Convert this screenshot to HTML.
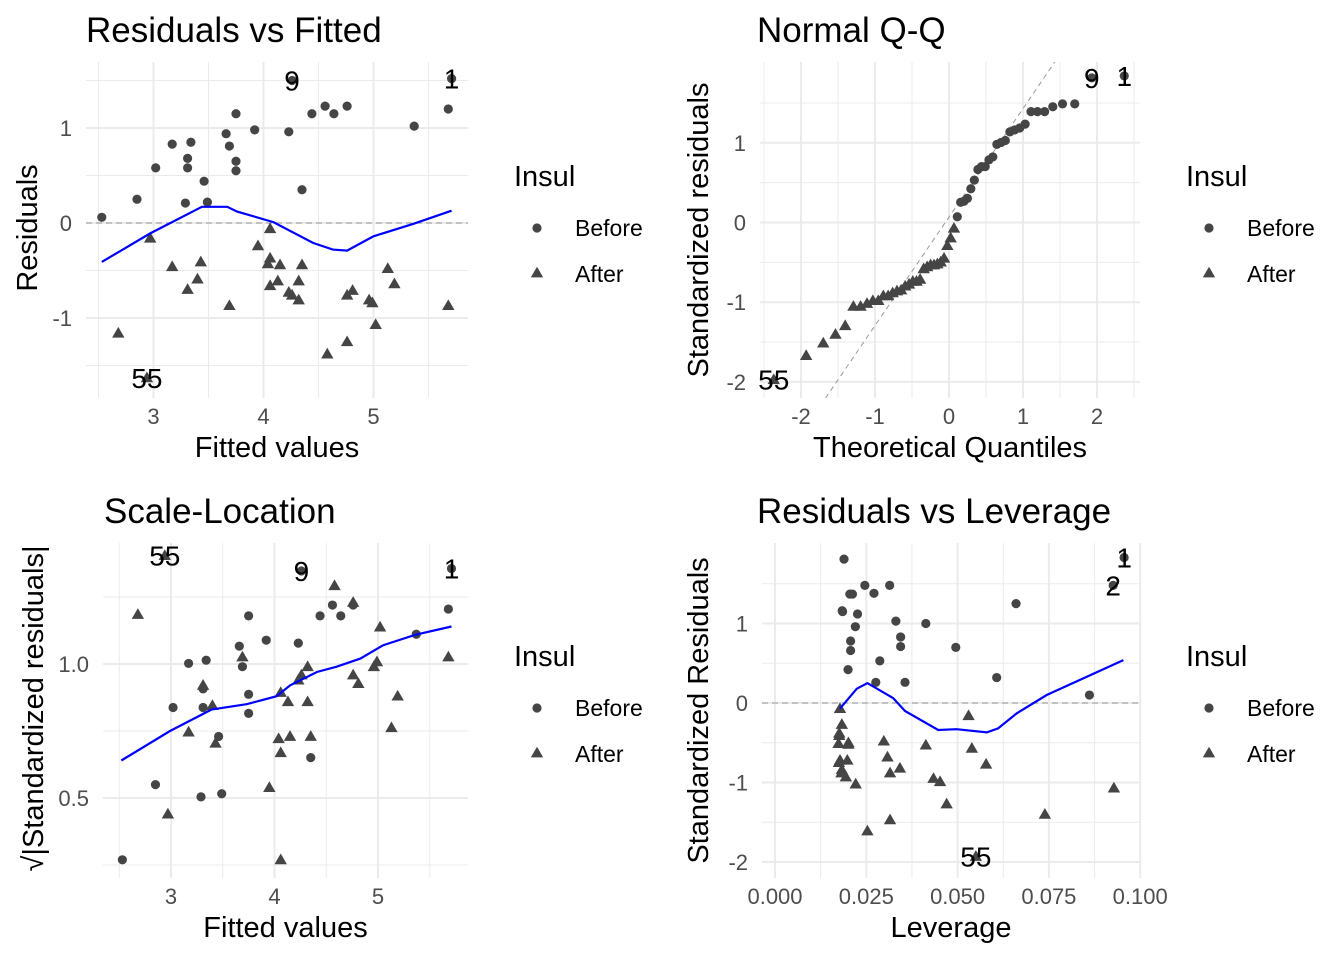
<!DOCTYPE html>
<html><head><meta charset="utf-8"><title>Regression diagnostics</title>
<style>
body{margin:0;background:#fff;}
svg{display:block;font-family:"Liberation Sans",sans-serif;}
</style></head>
<body>
<svg id="chart" width="1344" height="960" viewBox="0 0 1344 960"></svg>
<script>
// ---- Data ----
const fittedBefore = [2.53,2.85,3.02,3.17,3.34,3.31,3.31,3.46,3.29,3.49,3.75,3.66,3.69,3.75,3.75,3.92,4.23,4.35,4.44,4.56,4.64,4.76,5.37,5.68,5.71,4.26];
const residBefore  = [0.06,0.25,0.58,0.83,0.85,0.68,0.58,0.44,0.21,0.22,1.15,0.94,0.81,0.65,0.55,0.98,0.96,0.35,1.15,1.23,1.15,1.23,1.02,1.20,1.52,1.50];
const fittedAfter = [2.97,2.68,3.17,3.43,3.40,3.31,3.69,4.06,3.95,4.06,4.04,4.15,4.35,4.32,4.13,4.06,4.23,4.26,4.32,4.58,4.76,4.81,4.76,4.96,4.99,5.02,5.13,5.19,5.68,2.94];
const residAfter  = [-0.16,-1.16,-0.46,-0.41,-0.59,-0.70,-0.87,-0.06,-0.24,-0.37,-0.43,-0.44,-0.44,-0.61,-0.61,-0.66,-0.73,-0.76,-0.81,-1.38,-1.25,-0.71,-0.76,-0.81,-0.84,-1.07,-0.48,-0.64,-0.87,-1.63];
const labelsBefore = {24:"1",25:"9"};
const labelsAfter = {29:"55"};
const stdScale = 1.21;
const smooth1X = [2.53,2.97,3.44,3.67,3.76,4.09,4.45,4.63,4.76,5.00,5.36,5.71];
const smooth1Y = [-0.41,-0.11,0.17,0.17,0.12,0.01,-0.21,-0.28,-0.29,-0.14,-0.01,0.13];
const smooth3X = [2.52,2.99,3.39,3.73,4.02,4.15,4.41,4.60,4.83,5.05,5.37,5.71];
const smooth3Y = [0.64,0.75,0.83,0.85,0.88,0.92,0.97,0.99,1.02,1.07,1.11,1.14];
const levBefore = [0.0189,0.0246,0.0212,0.0271,0.0314,0.0184,0.0226,0.0220,0.0331,0.0413,0.0207,0.0207,0.0344,0.0344,0.0495,0.0287,0.0200,0.0276,0.0356,0.0607,0.0660,0.0861,0.0956,0.0926,0.0205,0.0185];
const srBefore  = [1.81,1.48,1.37,1.38,1.48,1.16,1.12,0.96,1.03,1.00,0.78,0.66,0.83,0.71,0.70,0.53,0.42,0.26,0.26,0.32,1.25,0.10,1.83,1.48,1.37,1.15];
const levAfter = [0.0178,0.0183,0.0176,0.0174,0.0201,0.0178,0.0198,0.0183,0.0194,0.0221,0.0298,0.0308,0.0315,0.0342,0.0253,0.0315,0.0413,0.0434,0.0452,0.0470,0.0530,0.0539,0.0578,0.0739,0.0928,0.0550,0.0176,0.0175,0.0182,0.0201];
const srAfter  = [-0.07,-0.27,-0.41,-0.51,-0.52,-0.72,-0.72,-0.84,-0.93,-1.02,-0.48,-0.68,-0.88,-0.82,-1.61,-1.47,-0.53,-0.95,-0.99,-1.27,-0.16,-0.57,-0.77,-1.40,-1.07,-1.93,-0.38,-0.75,-0.88,-0.50];
const labels4Before = {22:"1",23:"2"};
const labels4After = {25:"55"};
const smooth4X = [0.0178,0.0224,0.0253,0.0324,0.0356,0.0447,0.0497,0.0580,0.0611,0.0662,0.0744,0.0954];
const smooth4Y = [-0.07,0.18,0.25,0.06,-0.10,-0.34,-0.33,-0.37,-0.32,-0.13,0.10,0.54];

const NS="http://www.w3.org/2000/svg";
const svg=document.getElementById('chart');
function mk(tag,attrs,parent){const e=document.createElementNS(NS,tag);for(const k in attrs)e.setAttribute(k,attrs[k]);(parent||svg).appendChild(e);return e;}
function txt(s,attrs,parent){const e=mk('text',attrs,parent);e.textContent=s;return e;}
const TICK={'font-size':'22px',fill:'#4d4d4d'};
function withT(a,b){return Object.assign({},a,b);}

function qnorm(p){
 const a=[-39.69683028665376,220.9460984245205,-275.9285104469687,138.357751867269,-30.66479806614716,2.506628277459239];
 const b=[-54.47609879822406,161.5858368580409,-155.6989798598866,66.80131188771972,-13.28068155288572];
 const c=[-0.007784894002430293,-0.3223964580411365,-2.400758277161838,-2.549732539343734,4.374664141464968,2.938163982698783];
 const d=[0.007784695709041462,0.3224671290700398,2.445134137142996,3.754408661907416];
 let q,r;
 if(p<0.02425){q=Math.sqrt(-2*Math.log(p));return (((((c[0]*q+c[1])*q+c[2])*q+c[3])*q+c[4])*q+c[5])/((((d[0]*q+d[1])*q+d[2])*q+d[3])*q+1);}
 if(p>1-0.02425){q=Math.sqrt(-2*Math.log(1-p));return -(((((c[0]*q+c[1])*q+c[2])*q+c[3])*q+c[4])*q+c[5])/((((d[0]*q+d[1])*q+d[2])*q+d[3])*q+1);}
 q=p-0.5;r=q*q;return (((((a[0]*r+a[1])*r+a[2])*r+a[3])*r+a[4])*r+a[5])*q/(((((b[0]*r+b[1])*r+b[2])*r+b[3])*r+b[4])*r+1);
}

function panel(cfg){
 const g=mk('g',{});
 
 
 const [L,T,R,B]=cfg.area;
 const cid='clip-'+cfg.name;
 const cp=mk('clipPath',{id:cid},g);mk('rect',{x:L,y:T,width:R-L,height:B-T},cp);
 const grid=mk('g',{},g);
 
 
 cfg.xMinor.forEach(v=>mk('line',{x1:cfg.x(v),x2:cfg.x(v),y1:T,y2:B,stroke:'#ebebeb','stroke-width':1},grid));
 cfg.yMinor.forEach(v=>mk('line',{x1:L,x2:R,y1:cfg.y(v),y2:cfg.y(v),stroke:'#ebebeb','stroke-width':1},grid));
 cfg.xMajor.forEach(v=>mk('line',{x1:cfg.x(v),x2:cfg.x(v),y1:T,y2:B,stroke:'#ebebeb','stroke-width':2},grid));
 cfg.yMajor.forEach(v=>mk('line',{x1:L,x2:R,y1:cfg.y(v),y2:cfg.y(v),stroke:'#ebebeb','stroke-width':2},grid));
 const plot=mk('g',{'clip-path':'url(#'+cid+')'},g);
 if(cfg.hline){const l=mk('line',{x1:L,x2:R,y1:cfg.y(0),y2:cfg.y(0),stroke:'#aaa','stroke-width':1.2,'stroke-dasharray':'6,4'},plot);
  
  }
 if(cfg.abline){const [a,bb]=cfg.abline;const x0=-4,x1=4;
  const l=mk('line',{x1:cfg.x(x0),x2:cfg.x(x1),y1:cfg.y(a+bb*x0),y2:cfg.y(a+bb*x1),stroke:'#999','stroke-width':1,'stroke-dasharray':'5,4'},plot);
  
  }
 cfg.pts.forEach(p=>{
  const X=cfg.x(p.x),Y=cfg.y(p.y);let e;
  if(p.shape==='c'){e=mk('circle',{cx:X,cy:Y,r:4.6,fill:'#454545'},plot);}
  else{e=mk('polygon',{points:`${X},${Y-6.3} ${X-6.2},${Y+4.4} ${X+6.2},${Y+4.4}`,fill:'#454545'},plot);}
  
  
 });
 if(cfg.smooth){
  const d=cfg.smooth[0].map((v,i)=>(i?'L':'M')+cfg.x(v).toFixed(1)+','+cfg.y(cfg.smooth[1][i]).toFixed(1)).join(' ');
  const s=mk('path',{d:d,fill:'none',stroke:'#0000ff','stroke-width':2.2},plot);
  
  
 }
 cfg.labels.forEach(l=>{
  const t=txt(l.t,{x:cfg.x(l.x),y:cfg.y(l.y)+10,'text-anchor':'middle','font-size':'28px',fill:'#000'},g);
  
  
 });
 cfg.xMajor.forEach((v,i)=>{const t=txt(cfg.xLab[i],withT(TICK,{x:cfg.x(v),y:B+26,'text-anchor':'middle'}),g);
  
  });
 cfg.yMajor.forEach((v,i)=>{const t=txt(cfg.yLab[i],withT(TICK,{x:L-14,y:cfg.y(v)+8,'text-anchor':'end'}),g);
  
  });
 const tt=txt(cfg.title,{x:cfg.titleX,y:T-20,'font-size':'35px',fill:'#000'},g);
 
 
 const xt=txt(cfg.xTitle,{x:(L+R)/2,y:B+59,'text-anchor':'middle','font-size':'29px',fill:'#000'},g);
 
 
 const yc=(T+B)/2+cfg.yTitleDy;
 const yt=txt(cfg.yTitle,{x:cfg.yTitleX,y:yc,'text-anchor':'middle','font-size':'29px',fill:'#000',transform:`rotate(-90 ${cfg.yTitleX} ${yc})`},g);
 
 
 // legend
 const lg=mk('g',{},g);
 
 
 const lx=cfg.legX, ly=cfg.legY;
 txt('Insul',{x:lx,y:ly,'font-size':'29px',fill:'#000'},lg);
 mk('circle',{cx:lx+23,cy:ly+42,r:4.6,fill:'#454545'},lg);
 txt('Before',{x:lx+61,y:ly+50,'font-size':'23px',fill:'#000'},lg);
 const ty=ly+87;
 mk('polygon',{points:`${lx+23},${ty-6.3} ${lx+16.8},${ty+4.4} ${lx+29.2},${ty+4.4}`,fill:'#454545'},lg);
 txt('After',{x:lx+61,y:ly+96,'font-size':'23px',fill:'#000'},lg);
}

function buildPts(xb,yb,xa,ya){
 const p=[];xb.forEach((v,i)=>p.push({x:v,y:yb[i],shape:'c'}));xa.forEach((v,i)=>p.push({x:v,y:ya[i],shape:'t'}));return p;
}
function buildLabels(xb,yb,xa,ya,lb,la){
 const l=[];for(const k in lb)l.push({x:xb[k],y:yb[k],t:lb[k]});for(const k in la)l.push({x:xa[k],y:ya[k],t:la[k]});return l;
}

// Panel 1
panel({name:'residuals-vs-fitted',area:[86,62,468,398],
 x:v=>153.5+(v-3)*110,y:v=>223-v*95,
 xMajor:[3,4,5],xLab:['3','4','5'],xMinor:[2.5,3.5,4.5,5.5],
 yMajor:[-1,0,1],yLab:['-1','0','1'],yMinor:[-1.5,-0.5,0.5,1.5],
 hline:true,pts:buildPts(fittedBefore,residBefore,fittedAfter,residAfter),
 smooth:[smooth1X,smooth1Y],
 labels:buildLabels(fittedBefore,residBefore,fittedAfter,residAfter,labelsBefore,labelsAfter),
 title:'Residuals vs Fitted',titleX:86,xTitle:'Fitted values',yTitle:'Residuals',yTitleX:37,yTitleDy:-2,
 legX:514,legY:186});

// Panel 2: Q-Q from standardized residuals
const allStd=[];
residBefore.forEach((r,i)=>allStd.push({v:r*stdScale,s:'c',lab:labelsBefore[i]}));
residAfter.forEach((r,i)=>allStd.push({v:r*stdScale,s:'t',lab:labelsAfter[i]}));
allStd.sort((a,b)=>a.v-b.v);
const n=allStd.length;
const qqPts=[],qqLabs=[];
allStd.forEach((o,i)=>{const q=qnorm((i+1-0.5)/n);qqPts.push({x:q,y:o.v,shape:o.s});if(o.lab)qqLabs.push({x:q,y:o.v,t:o.lab});});
function quant(arr,p){const h=(arr.length-1)*p,lo=Math.floor(h);return arr[lo]+(h-lo)*(arr[lo+1]-arr[lo]);}
const sv=allStd.map(o=>o.v);
const y1=quant(sv,0.25),y2=quant(sv,0.75),x1=qnorm(0.25),x2=qnorm(0.75);
const slope=(y2-y1)/(x2-x1),icpt=y1-slope*x1;
panel({name:'normal-qq',area:[760,62,1140,398],
 x:v=>949+v*74,y:v=>222.5-v*79.7,
 xMajor:[-2,-1,0,1,2],xLab:['-2','-1','0','1','2'],xMinor:[-2.5,-1.5,-0.5,0.5,1.5,2.5],
 yMajor:[-2,-1,0,1],yLab:['-2','-1','0','1'],yMinor:[-1.5,-0.5,0.5,1.5],
 abline:[icpt,slope],pts:qqPts,labels:qqLabs,
 title:'Normal Q-Q',titleX:757,xTitle:'Theoretical Quantiles',yTitle:'Standardized residuals',yTitleX:708,yTitleDy:0,
 legX:1186,legY:186});

// Panel 3: scale-location
const slB=residBefore.map(r=>Math.sqrt(Math.abs(r*stdScale)));
const slA=residAfter.map(r=>Math.sqrt(Math.abs(r*stdScale)));
panel({name:'scale-location',area:[103,543,468,878],
 x:v=>171+(v-3)*103.5,y:v=>664-(v-1)*268,
 xMajor:[3,4,5],xLab:['3','4','5'],xMinor:[2.5,3.5,4.5,5.5],
 yMajor:[0.5,1.0],yLab:['0.5','1.0'],yMinor:[0.25,0.75,1.25],
 pts:buildPts(fittedBefore,slB,fittedAfter,slA),smooth:[smooth3X,smooth3Y],
 labels:buildLabels(fittedBefore,slB,fittedAfter,slA,labelsBefore,labelsAfter),
 title:'Scale-Location',titleX:104,xTitle:'Fitted values',yTitle:'√|Standardized residuals|',yTitleX:43,yTitleDy:-2,
 legX:514,legY:666});

// Panel 4: residuals vs leverage
panel({name:'residuals-vs-leverage',area:[762,543,1140,878],
 x:v=>775+v*3652,y:v=>703-v*79.5,
 xMajor:[0,0.025,0.05,0.075,0.1],xLab:['0.000','0.025','0.050','0.075','0.100'],xMinor:[0.0125,0.0375,0.0625,0.0875],
 yMajor:[-2,-1,0,1],yLab:['-2','-1','0','1'],yMinor:[-1.5,-0.5,0.5,1.5],
 hline:true,pts:buildPts(levBefore,srBefore,levAfter,srAfter),smooth:[smooth4X,smooth4Y],
 labels:buildLabels(levBefore,srBefore,levAfter,srAfter,labels4Before,labels4After),
 title:'Residuals vs Leverage',titleX:757,xTitle:'Leverage',yTitle:'Standardized Residuals',yTitleX:708,yTitleDy:0,
 legX:1186,legY:666});
</script>
</body></html>
